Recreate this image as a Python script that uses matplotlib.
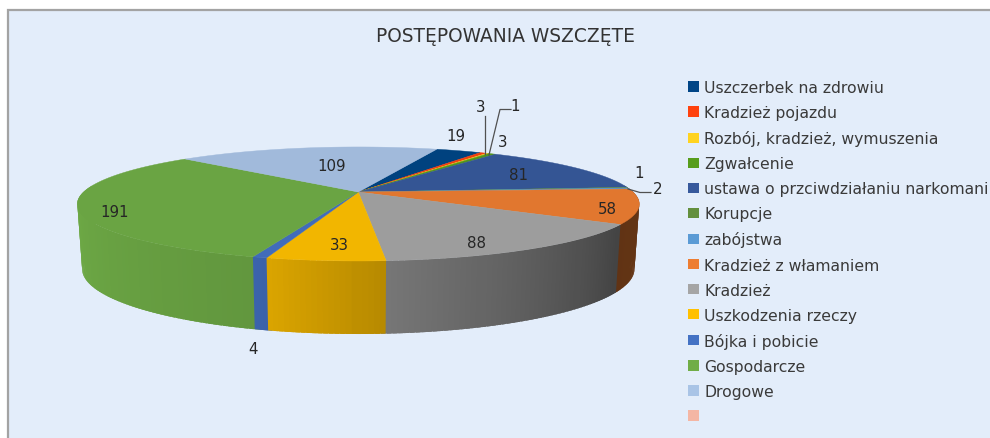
import numpy as np
import matplotlib
matplotlib.use("Agg")
import matplotlib.pyplot as plt
from matplotlib.collections import PolyCollection
from matplotlib.patches import Patch, Rectangle

# ---- data ----
categories = ["Uszczerbek na zdrowiu", "Kradzież pojazdu", "Rozbój, kradzież, wymuszenia",
              "Zgwałcenie", "ustawa o przciwdziałaniu narkomani", "Korupcje", "zabójstwa",
              "Kradzież z włamaniem", "Kradzież", "Uszkodzenia rzeczy", "Bójka i pobicie",
              "Gospodarcze", "Drogowe", ""]
values = [19, 3, 1, 3, 81, 1, 2, 58, 88, 33, 4, 191, 109, 0]
colors = ["#004586", "#ff420e", "#ffd320", "#579d1c", "#37599c", "#638f3d", "#5b9bd5",
          "#ed7d31", "#a5a5a5", "#ffc000", "#4472c4", "#70ad47", "#a9c4e6", "#f4b6a4"]
title = "POSTĘPOWANIA WSZCZĘTE"

# ---- style / layout ----
label_pos = [(456, 137), (481, 108), (515, 107), (503, 143), (518, 176), (639, 174), (658, 190),
             (607, 210), (477, 244), (339, 246), (253, 350), (115, 213), (332, 167), None]
leaders = [[(484.7, 117), (484.7, 155)],
           [(511, 110.5), (500, 110.5), (489, 156)],
           [(651, 193.5), (640, 193.5), (628, 190)]]
START = 20.0
K = 0.21
TOP = dict(x0=358.3, y0=193.0, A=54.5, B=274.7)
BOT = dict(x0=358.3, y0=256.4, A=62.1, B=270.0)
BG = "#e3edfa"
TEXT = "#3a3a3a"


def project(theta_deg, r, p):
    t = np.radians(theta_deg)
    u, v = r * np.sin(t), r * np.cos(t)
    d = 1 + K * v
    return p["x0"] + p["B"] * u / d, p["y0"] - p["A"] * v / d


def shade(c, f):
    return tuple(np.clip(np.array(matplotlib.colors.to_rgb(c)) * f, 0, 1))


def wall_light(theta):
    return np.interp(theta % 360, [85, 123, 176, 197, 270], [0.43, 0.41, 0.72, 0.87, 1.0])


fig = plt.figure(figsize=(9.9, 4.39), dpi=100, facecolor="white")
ax = fig.add_axes([0, 0, 1, 1])
ax.set_xlim(0, 990)
ax.set_ylim(439, 0)
ax.axis("off")

ax.add_patch(Rectangle((8, 11), 1100, 500, facecolor=BG, edgecolor="#a3a3a3", lw=1.6, zorder=0))

angles = np.array(values) / sum(values) * 360
starts = START + np.concatenate([[0], np.cumsum(angles)[:-1]])

# side walls: drawn back to front, each strip overlapping towards the front to avoid seams
strips = []
for st, an, c in zip(starts, angles, colors):
    if an == 0:
        continue
    ts = np.linspace(st, st + an, max(2, int(an) + 2))
    step = ts[1] - ts[0]
    for a in ts[:-1]:
        m = a + step / 2
        if np.cos(np.radians(m)) > 0.12:
            continue
        lo, hi = a, a + step
        if m % 360 < 180:
            hi += 0.8
        else:
            lo -= 0.8
        bs = np.linspace(lo, hi, 4)
        xt, yt = project(bs, 1, TOP)
        xb, yb = project(bs[::-1], 1, BOT)
        strips.append((-np.cos(np.radians(m)), list(zip(np.r_[xt, xb], np.r_[yt, yb])),
                       shade(c, wall_light(m))))
strips.sort(key=lambda s: s[0])
ax.add_collection(PolyCollection([s[1] for s in strips], facecolors=[s[2] for s in strips],
                                 edgecolors="none", linewidths=0, zorder=2))

# top face
for st, an, c in zip(starts, angles, colors):
    if an == 0:
        continue
    ts = np.linspace(st, st + an, max(3, int(an * 2) + 2))
    xs, ys = project(ts, 1, TOP)
    col = shade(c, 0.95)
    ax.fill(np.r_[TOP["x0"], xs], np.r_[TOP["y0"], ys], facecolor=col, edgecolor=col, lw=0.3, zorder=3)

# leader lines and value labels
for pts in leaders:
    ax.plot(*zip(*pts), color="#505050", lw=0.9, zorder=4)
for v, pos in zip(values, label_pos):
    if pos is not None:
        ax.text(pos[0], pos[1], str(v), ha="center", va="center", fontsize=10.8,
                family="DejaVu Sans", color="#262626", zorder=5)

ax.text(505, 37, title, ha="center", va="center", fontsize=13.4, family="DejaVu Sans", color="#333333")

handles = [Patch(facecolor=c, edgecolor="none") for c in colors]
ax.legend(handles, categories, loc="upper left", bbox_to_anchor=(688, 81),
          bbox_transform=ax.transData, frameon=False, borderpad=0, borderaxespad=0,
          prop={"family": "DejaVu Sans", "size": 11.25}, labelcolor=TEXT, labelspacing=0.645,
          handlelength=0.71, handleheight=0.64, handletextpad=0.33)

fig.savefig("out.png", dpi=100, facecolor="white")
